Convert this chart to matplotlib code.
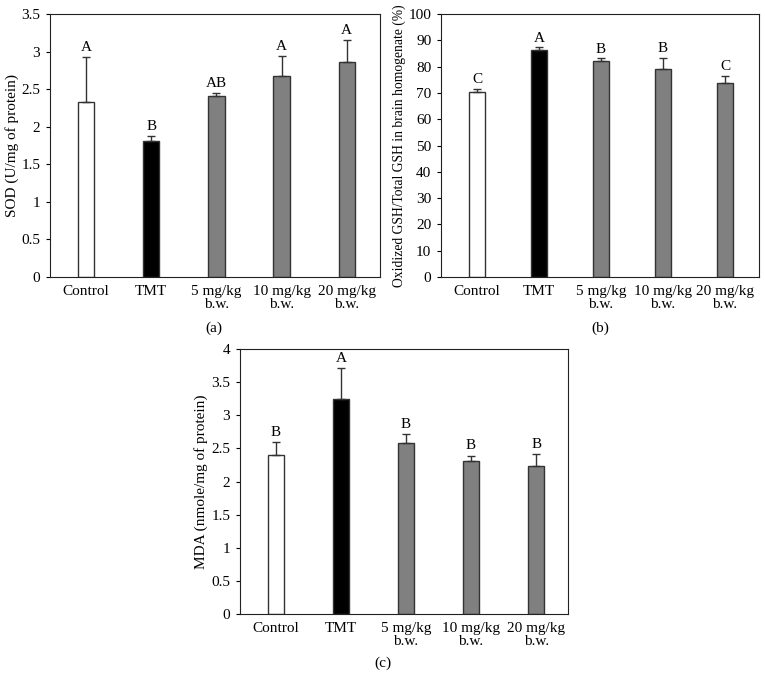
import matplotlib
matplotlib.use("Agg")
import matplotlib.pyplot as plt

plt.rcParams['font.family'] = ['Liberation Serif', 'DejaVu Serif']

groups = ["Control", "TMT", "5 mg/kg\nb.w.", "10 mg/kg\nb.w.", "20 mg/kg\nb.w."]
colors = ["white", "black", "#808080", "#808080", "#808080"]

sod_mean = [2.33, 1.81, 2.41, 2.67, 2.86]
sod_err = [0.60, 0.07, 0.04, 0.27, 0.29]
sod_letters = ["A", "B", "AB", "A", "A"]

gsh_mean = [70.3, 86.4, 82.2, 79.1, 73.8]
gsh_err = [1.3, 0.9, 1.0, 4.3, 2.6]
gsh_letters = ["C", "A", "B", "B", "C"]

mda_mean = [2.40, 3.25, 2.58, 2.31, 2.24]
mda_err = [0.19, 0.46, 0.14, 0.08, 0.17]
mda_letters = ["B", "A", "B", "B", "B"]

fig = plt.figure(figsize=(7.65, 6.91), dpi=100)

panels = [
    dict(rect=[0.0654, 0.5991, 0.4314, 0.3806], mean=sod_mean, err=sod_err, letters=sod_letters,
         ylim=(0, 3.5), ticks=[0, 0.5, 1, 1.5, 2, 2.5, 3, 3.5],
         ticklabels=["0", "0.5", "1", "1.5", "2", "2.5", "3", "3.5"],
         ylabel="SOD (U/mg of protein)", ylfs=11, xlim=(-0.554, 4.51), tag="(a)", tagpos=(0.28, 0.525), off=0.04),
    dict(rect=[0.5765, 0.5991, 0.4157, 0.3806], mean=gsh_mean, err=gsh_err, letters=gsh_letters,
         ylim=(0, 100), ticks=list(range(0, 101, 10)),
         ticklabels=[str(v) for v in range(0, 101, 10)],
         ylabel="Oxidized GSH/Total GSH in brain homogenate (%)", ylfs=9.8, xlim=(-0.58, 4.55), tag="(b)",
         tagpos=(0.785, 0.525), off=1.0),
    dict(rect=[0.3137, 0.1114, 0.4288, 0.3835], mean=mda_mean, err=mda_err, letters=mda_letters,
         ylim=(0, 4), ticks=[0, 0.5, 1, 1.5, 2, 2.5, 3, 3.5, 4],
         ticklabels=["0", "0.5", "1", "1.5", "2", "2.5", "3", "3.5", "4"],
         ylabel="MDA (nmole/mg of protein)", ylfs=11, xlim=(-0.55, 4.49), tag="(c)", tagpos=(0.5, 0.04), off=0.05),
]

edge = "#333333"
for p in panels:
    ax = fig.add_axes(p["rect"])
    x = list(range(len(groups)))
    ax.bar(x, p["mean"], width=0.25, color=colors, edgecolor=edge, linewidth=1.0, zorder=2)
    ax.errorbar(x, p["mean"], yerr=[[0] * len(x), p["err"]], fmt="none", ecolor=edge,
                elinewidth=1.0, capsize=3, capthick=1.0, zorder=3)
    for xi, m, e, l in zip(x, p["mean"], p["err"], p["letters"]):
        ax.text(xi, m + e + p["off"], l, ha="center", va="bottom", fontsize=11)
    ax.set_ylim(*p["ylim"])
    ax.set_xlim(*p["xlim"])
    ax.set_yticks(p["ticks"])
    ax.set_yticklabels(p["ticklabels"], fontsize=11)
    ax.set_xticks(x)
    ax.set_xticklabels(groups, fontsize=11, linespacing=1.0)
    ax.tick_params(axis="x", length=0, pad=6)
    ax.tick_params(axis="y", length=3, width=0.8, direction="out", pad=4)
    ax.set_ylabel(p["ylabel"], fontsize=p["ylfs"], labelpad=2)
    for s in ax.spines.values():
        s.set_linewidth(0.8)
        s.set_color("#222222")
    fig.text(p["tagpos"][0], p["tagpos"][1], p["tag"], ha="center", va="center", fontsize=11)

fig.savefig("out.png", dpi=100)
